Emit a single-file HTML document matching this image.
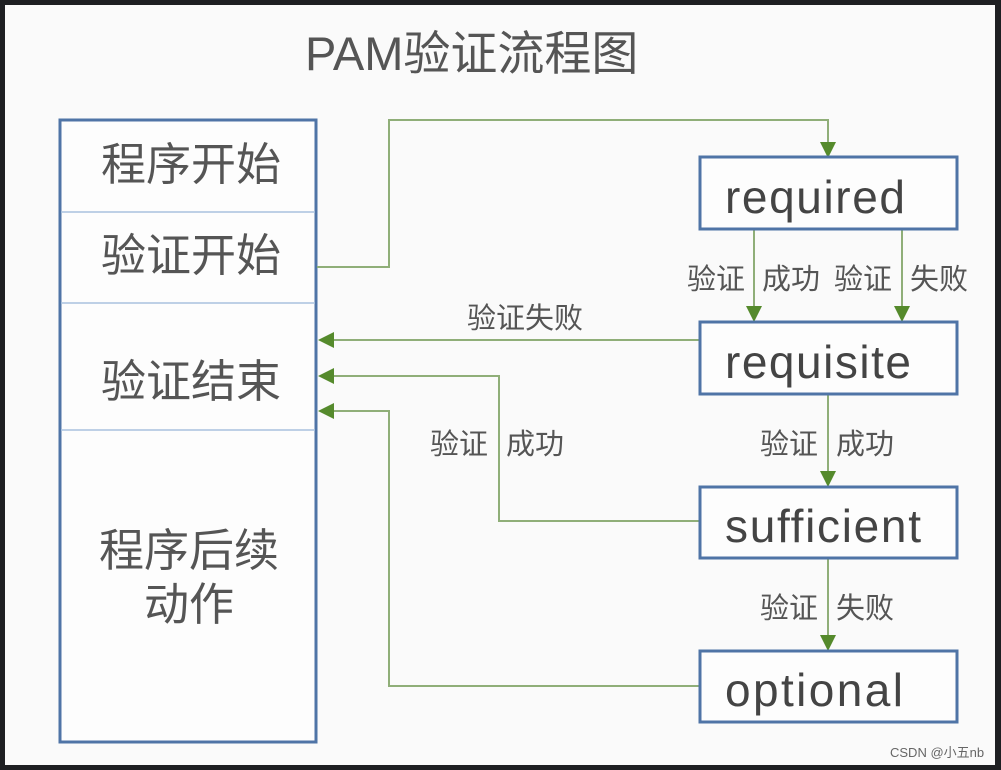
<!DOCTYPE html>
<html><head><meta charset="utf-8"><style>
html,body{margin:0;padding:0;background:#1e1f22;}
svg{display:block;}
</style></head><body>
<svg width="1001" height="770" xmlns="http://www.w3.org/2000/svg" font-family="'Liberation Sans','Noto Sans CJK SC',sans-serif">
<rect x="5" y="5" width="990" height="760" fill="#fafafa"/>
<text x="305" y="70" font-size="47" fill="#555">PAM验证流程图</text>
<!-- left box -->
<rect x="60" y="120" width="256" height="622" fill="#fdfdfd" stroke="#4f74a6" stroke-width="3"/>
<g stroke="#a9c2de" stroke-width="1.5">
<line x1="61" y1="212" x2="315" y2="212"/>
<line x1="61" y1="303" x2="315" y2="303"/>
<line x1="61" y1="430" x2="315" y2="430"/>
</g>
<g font-size="45" fill="#555" text-anchor="middle">
<text x="191" y="180">程序开始</text>
<text x="191" y="271">验证开始</text>
<text x="191" y="397">验证结束</text>
<text x="189" y="566">程序后续</text>
<text x="189" y="620">动作</text>
</g>
<!-- connectors -->
<g stroke="#8fae78" stroke-width="2" fill="none">
<polyline points="317,267 389,267 389,120 828,120 828,145"/>
<line x1="754" y1="229" x2="754" y2="310"/>
<line x1="902" y1="229" x2="902" y2="310"/>
<line x1="700" y1="340" x2="330" y2="340"/>
<polyline points="700,521 499,521 499,376 330,376"/>
<polyline points="700,686 389,686 389,411 330,411"/>
<line x1="828" y1="394" x2="828" y2="475"/>
<line x1="828" y1="558" x2="828" y2="640"/>
</g>
<g fill="#558a2c">
<polygon points="820,142 836,142 828,158"/>
<polygon points="746,306 762,306 754,322"/>
<polygon points="894,306 910,306 902,322"/>
<polygon points="820,471 836,471 828,487"/>
<polygon points="820,635 836,635 828,651"/>
<polygon points="318,340 334,332 334,348"/>
<polygon points="318,376 334,368 334,384"/>
<polygon points="318,411 334,403 334,419"/>
</g>
<!-- right boxes -->
<g fill="#fdfdfd" stroke="#4f74a6" stroke-width="3">
<rect x="700" y="157" width="257" height="72"/>
<rect x="700" y="322" width="257" height="72"/>
<rect x="700" y="487" width="257" height="71"/>
<rect x="700" y="651" width="257" height="71"/>
</g>
<g font-size="46" fill="#444">
<text x="725" y="213" textLength="180">required</text>
<text x="725" y="378" textLength="186">requisite</text>
<text x="725" y="542" textLength="196">sufficient</text>
<text x="725" y="706" textLength="178">optional</text>
</g>
<g font-size="29" fill="#555">
<text x="687" y="289">验证</text>
<text x="762" y="289">成功</text>
<text x="834" y="289">验证</text>
<text x="910" y="289">失败</text>
<text x="467" y="328">验证失败</text>
<text x="430" y="454">验证</text>
<text x="506" y="454">成功</text>
<text x="760" y="454">验证</text>
<text x="836" y="454">成功</text>
<text x="760" y="618">验证</text>
<text x="836" y="618">失败</text>
</g>
<text x="890" y="757" font-size="13" fill="#666">CSDN @小五nb</text>
</svg>
</body></html>
